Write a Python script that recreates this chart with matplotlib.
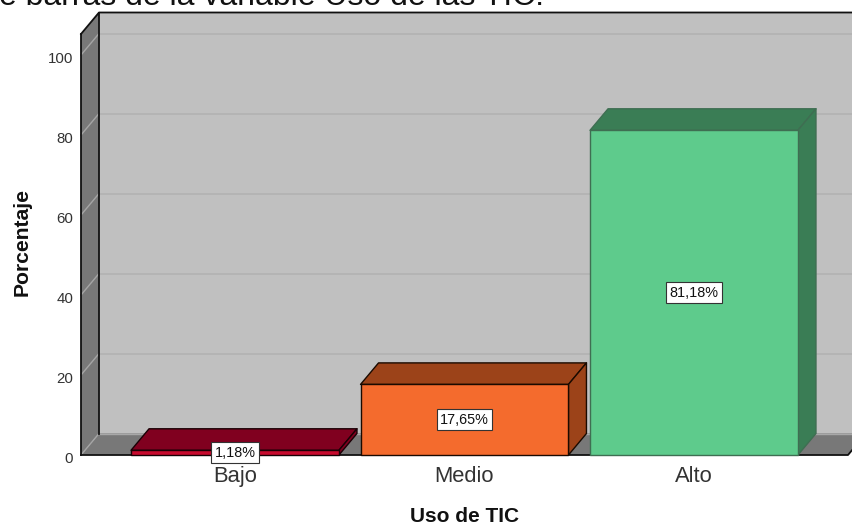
import matplotlib
matplotlib.use('Agg')
import matplotlib.pyplot as plt
from matplotlib.patches import Polygon
from matplotlib.transforms import ScaledTranslation

# data
categories = ['Bajo', 'Medio', 'Alto']
percentages = [1.18, 17.65, 81.18]
value_labels = ['1,18%', '17,65%', '81,18%']
yticks = [0, 20, 40, 60, 80, 100]

front_cols = ['#c80a2e', '#f46b2d', '#5ecb8c']
top_cols = ['#80001f', '#9c4319', '#3a7d55']
edge_cols = ['#1a0005', '#1a0a00', '#3f6e52']

plt.rcParams['font.family'] = ['Liberation Sans', 'DejaVu Sans']

W, H = 852, 526
fig = plt.figure(figsize=(W / 100, H / 100), dpi=100)
ax = fig.add_axes([81 / W, 1 - 455 / H, (848 - 81) / W, (455 - 34) / H])

xmin, xmax = -0.671, 2.671
ymin, ymax = 0, 105.25
barw = 0.906
# 3d depth in data units
dx = 18 / 229.5
dy = 21.5 / 4.0

ax.set_xlim(xmin, xmax)
ax.set_ylim(ymin, ymax)
ax.patch.set_visible(False)
for s in ax.spines.values():
    s.set_visible(False)


def poly(pts, face, edge='none', lw=0.0, z=1):
    ax.add_patch(Polygon(pts, closed=True, facecolor=face, edgecolor=edge,
                         linewidth=lw, zorder=z, clip_on=False, joinstyle='round'))


# back wall, side wall, floor
poly([(xmin + dx, dy), (xmax + dx, dy), (xmax + dx, ymax + dy), (xmin + dx, ymax + dy)], '#c0c0c0', z=1)
poly([(xmin, 0), (xmin + dx, dy), (xmin + dx, ymax + dy), (xmin, ymax)], '#787878', z=1)
poly([(xmin, 0), (xmax, 0), (xmax + dx, dy), (xmin + dx, dy)], '#787878', z=1)

# gridlines on the walls
for v in yticks:
    if v > 0:
        ax.plot([xmin + dx, xmax + dx], [v + dy, v + dy], color='#b4b4b4', lw=1.4, zorder=2, clip_on=False)
    ax.plot([xmin, xmin + dx], [v, v + dy], color='#a6a6a6', lw=1.0, zorder=2, clip_on=False)
ax.plot([xmin + dx, xmax + dx], [dy, dy], color='#a8a8a8', lw=1.0, zorder=2, clip_on=False)

# wall outlines
ax.plot([xmin + dx, xmin + dx], [dy, ymax + dy], color='#111111', lw=1.3, zorder=3, clip_on=False)
ax.plot([xmin, xmin + dx, xmax + dx], [ymax, ymax + dy, ymax + dy], color='#111111', lw=1.3, zorder=3, clip_on=False)
ax.plot([xmin, xmin], [0, ymax], color='#111111', lw=1.3, zorder=3, clip_on=False)
ax.plot([xmin, xmax, xmax + dx], [0, 0, dy], color='#111111', lw=1.3, zorder=3, clip_on=False)

# bars
for i, v in enumerate(percentages):
    l, r = i - barw / 2, i + barw / 2
    e = edge_cols[i]
    poly([(l, v), (r, v), (r + dx, v + dy), (l + dx, v + dy)], top_cols[i], e, 1.0, 4)
    poly([(r, 0), (r + dx, dy), (r + dx, v + dy), (r, v)], top_cols[i], e, 1.0, 4)
    poly([(l, 0), (r, 0), (r, v), (l, v)], front_cols[i], e, 1.0, 5)
    ax.text(i, v / 2, value_labels[i], ha='center', va='center', fontsize=10.4, color='#111111', zorder=8,
            clip_on=False, bbox=dict(boxstyle='square,pad=0.24', facecolor='white', edgecolor='#333333', linewidth=0.8))

ax.set_yticks(yticks)
ax.set_yticklabels([str(v) for v in yticks], fontsize=10.8, color='#333333')
ax.set_xticks(range(len(categories)))
ax.set_xticklabels(categories, fontsize=15.8, color='#333333')
ax.tick_params(axis='y', length=0, pad=5.5)
ax.tick_params(axis='x', length=0, pad=8)
# tick numbers sit a little under their gridline ends
for lbl in ax.get_yticklabels():
    lbl.set_transform(lbl.get_transform() + ScaledTranslation(0, -2 / 72, fig.dpi_scale_trans))
ax.set_xlabel('Uso de TIC', fontsize=15, fontweight='bold', color='#111111', labelpad=14.5)
ax.set_ylabel('Porcentaje', fontsize=15.2, fontweight='bold', color='#111111', labelpad=12, y=0.507)

# caption cut off by the top of the image
fig.text(-1 / W, 1 - 5 / H, 'e barras de la variable Uso de las TIC.', fontsize=23, color='#111111', ha='left', va='baseline')

fig.savefig('out.png', dpi=100)
